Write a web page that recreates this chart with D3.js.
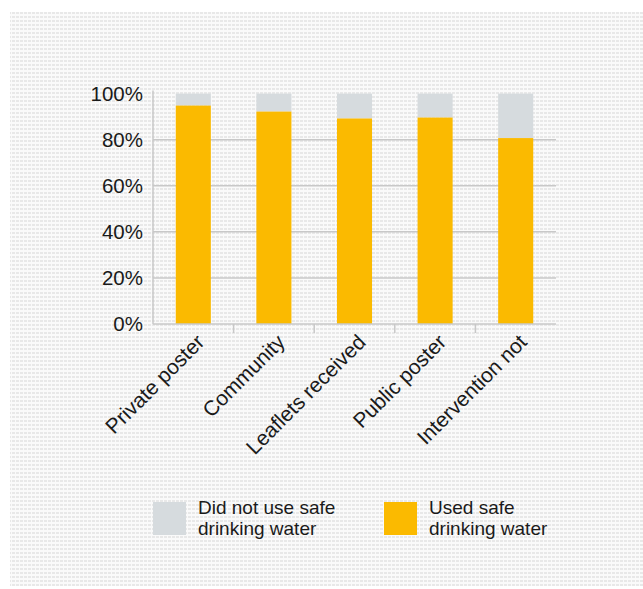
<!DOCTYPE html>
<html>
<head>
<meta charset="utf-8">
<script src="https://cdn.jsdelivr.net/npm/d3@7"></script>
<style>
  body { margin: 0; background: #fff; }
  svg { display: block; font-family: "Liberation Sans", Arial, sans-serif; }
  .tick-label { fill: #1a1a1a; }
</style>
</head>
<body>
<svg id="chart" width="643" height="589"></svg>
<script>
// data (percent of respondents)
var categories = ["Private poster", "Community", "Leaflets received", "Public poster", "Intervention not"];
var usedSafe = [94.8, 92.2, 89.2, 89.6, 80.7];
var notUsedSafe = [5.2, 7.8, 10.8, 10.4, 19.3];
var yTicks = [0, 20, 40, 60, 80, 100];
var legendLabels = [["Did not use safe", "drinking water"], ["Used safe", "drinking water"]];

var colors = {used: "#fbba00", notUsed: "#d6dbde", axis: "#c8c8c8"};
var margin = {top: 93.6, left: 153, right: 87, bottom: 265};
var width = 643 - margin.left - margin.right;
var height = 324 - margin.top;

var svg = d3.select("#chart");

// dotted halftone background
var defs = svg.append("defs");
var pat = defs.append("pattern")
    .attr("id", "dots")
    .attr("patternUnits", "userSpaceOnUse")
    .attr("width", 4)
    .attr("height", 4);
pat.append("rect").attr("width", 4).attr("height", 4).attr("fill", "#fafafa");
pat.append("rect").attr("width", 3).attr("height", 2).attr("fill", "#e8e8e8");

svg.append("rect")
    .attr("x", 10)
    .attr("y", 12)
    .attr("width", 633)
    .attr("height", 574)
    .attr("fill", "url(#dots)");

var xScale = d3.scaleBand()
    .domain(categories)
    .range([0, width])
    .paddingInner(0.565)
    .paddingOuter(0.2825);
var yScale = d3.scaleLinear()
    .domain([0, 100])
    .range([height, 0]);

var chart = svg.append("g")
    .attr("transform", `translate(${margin.left}, ${margin.top})`);

// gridlines
chart.selectAll("line.grid")
    .data(yTicks.slice(1, -1))
    .enter().append("line")
        .attr("class", "grid")
        .attr("x1", 0)
        .attr("x2", width)
        .attr("y1", function(d) { return yScale(d); })
        .attr("y2", function(d) { return yScale(d); })
        .attr("stroke", colors.axis)
        .attr("stroke-width", 1.5);

// y tick labels
chart.selectAll("text.ylab")
    .data(yTicks)
    .enter().append("text")
        .attr("class", "tick-label")
        .attr("x", -10)
        .attr("y", function(d) { return yScale(d); })
        .attr("dy", "0.36em")
        .attr("text-anchor", "end")
        .style("font-size", "20.5px")
        .text(function(d) { return d + "%"; });

// stacked bars
var stackData = categories.map(function(c, i) {
  return {cat: c, used: usedSafe[i], notUsed: notUsedSafe[i]};
});

var bar = chart.selectAll("g.bar")
    .data(stackData)
    .enter().append("g")
        .attr("class", "bar")
        .attr("transform", function(d) { return `translate(${xScale(d.cat)}, 0)`; });

bar.append("rect")
    .attr("width", xScale.bandwidth())
    .attr("y", function(d) { return yScale(d.used + d.notUsed); })
    .attr("height", function(d) { return yScale(d.used) - yScale(d.used + d.notUsed); })
    .attr("fill", colors.notUsed);

bar.append("rect")
    .attr("width", xScale.bandwidth())
    .attr("y", function(d) { return yScale(d.used); })
    .attr("height", function(d) { return height - yScale(d.used); })
    .attr("fill", colors.used);

// axes lines
chart.append("line")
    .attr("x1", 0).attr("x2", 0)
    .attr("y1", yScale(100) - 3).attr("y2", height)
    .attr("stroke", colors.axis)
    .attr("stroke-width", 1.5);
chart.append("line")
    .attr("x1", 0).attr("x2", width)
    .attr("y1", height).attr("y2", height)
    .attr("stroke", colors.axis)
    .attr("stroke-width", 1.5);

// ticks between categories
var step = xScale.step();
chart.selectAll("line.xtick")
    .data(categories.slice(1))
    .enter().append("line")
        .attr("class", "xtick")
        .attr("x1", function(d) { return xScale(d) - (step - xScale.bandwidth()) / 2; })
        .attr("x2", function(d) { return xScale(d) - (step - xScale.bandwidth()) / 2; })
        .attr("y1", height)
        .attr("y2", height + 9)
        .attr("stroke", colors.axis)
        .attr("stroke-width", 1.5);

// rotated category labels
chart.selectAll("text.xlab")
    .data(categories)
    .enter().append("text")
        .attr("class", "tick-label")
        .attr("text-anchor", "end")
        .style("font-size", "21px")
        .attr("transform", function(d) {
          var cx = xScale(d) + xScale.bandwidth() / 2 + 2;
          return `translate(${cx}, ${height + 9}) rotate(-45)`;
        })
        .attr("dy", "0.7em")
        .text(function(d) { return d; });

// legend
var legendColors = [colors.notUsed, colors.used];
var legendX = [153, 384];
var legend = svg.selectAll("g.legend")
    .data(legendLabels)
    .enter().append("g")
        .attr("class", "legend")
        .attr("transform", function(d, i) { return `translate(${legendX[i]}, 502)`; });

legend.append("rect")
    .attr("width", 33)
    .attr("height", 33)
    .attr("fill", function(d, i) { return legendColors[i]; });

legend.append("text")
    .attr("class", "tick-label")
    .attr("x", 45)
    .attr("y", 12)
    .style("font-size", "19px")
    .selectAll("tspan")
    .data(function(d) { return d; })
    .enter().append("tspan")
        .attr("x", 45)
        .attr("dy", function(d, i) { return i === 0 ? 0 : 21; })
        .text(function(d) { return d; });
</script>
</body>
</html>
